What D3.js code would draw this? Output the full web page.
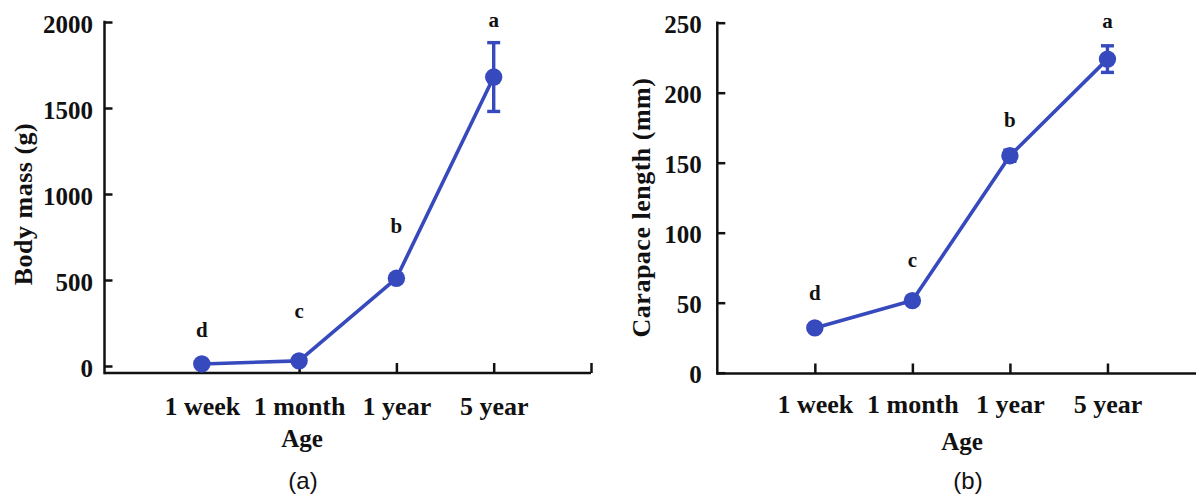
<!DOCTYPE html>
<html>
<head>
<meta charset="utf-8">
<script src="https://cdn.jsdelivr.net/npm/d3@7"></script>
<style>
  html, body { margin: 0; padding: 0; background: #fff; }
  svg { display: block; }
  .serif { font-family: "Liberation Serif", "Times New Roman", serif; font-weight: bold; fill: #111; }
  .sans { font-family: "Liberation Sans", Arial, sans-serif; fill: #111; }
</style>
</head>
<body>
<svg id="chart" width="1196" height="498"></svg>
<script>
// ---------- data ----------
const categories = ["1 week", "1 month", "1 year", "5 year"];
const letters = ["d", "c", "b", "a"];

const bodyMass = [12, 30, 510, 1680];
const bodyMassErr = [6, 8, 20, 200];
const bodyMassLetterY = [170, 280, 775, 1970];
const bodyMassTicks = [0, 500, 1000, 1500, 2000];

const carapace = [32, 51.5, 155, 224];
const carapaceErr = [1.5, 2, 4, 9.5];
const carapaceLetterY = [52, 75.5, 175.5, 246];
const carapaceTicks = [0, 50, 100, 150, 200, 250];

// ---------- drawing ----------
const svg = d3.select("#chart");
const blue = "#3649bd";

function panel(cfg) {
  const g = svg.append("g");
  const x = d3.scaleLinear().domain([0, categories.length + 1]).range([cfg.x0, cfg.x1]);
  const y = d3.scaleLinear().domain([0, cfg.yMax]).range([cfg.y0, cfg.yTop]);

  // y axis
  const yAxis = d3.axisLeft(y).tickValues(cfg.ticks).tickSizeInner(-8).tickSizeOuter(0)
    .tickPadding(cfg.yPad).tickFormat(d3.format("d"));
  const ya = g.append("g").attr("transform", `translate(${cfg.x0},0)`).call(yAxis);
  ya.select(".domain").remove();
  ya.selectAll(".tick line").attr("stroke", "#111").attr("stroke-width", 2.5);
  ya.selectAll(".tick text").attr("class", "serif").style("font-size", "25px").attr("dy", "0.4em");
  g.append("line").attr("x1", cfg.x0).attr("x2", cfg.x0)
    .attr("y1", y(cfg.yMax) - 1.2).attr("y2", cfg.xAxisY + 1.2)
    .attr("stroke", "#111").attr("stroke-width", 2.5);

  // x axis
  const xAxis = d3.axisBottom(x).tickValues(d3.range(1, categories.length + 2))
    .tickSizeInner(-10).tickSizeOuter(0).tickPadding(cfg.xPad)
    .tickFormat(d => categories[d - 1] || "");
  const xa = g.append("g").attr("transform", `translate(0,${cfg.xAxisY})`).call(xAxis);
  xa.select(".domain").attr("stroke", "#111").attr("stroke-width", 2.5)
    .attr("d", `M${cfg.x0},0H${cfg.x1}`);
  xa.selectAll(".tick line").attr("stroke", "#111").attr("stroke-width", 2.5);
  xa.selectAll(".tick text").attr("class", "serif").style("font-size", "26px");

  // line
  const pts = cfg.values.map((v, i) => [x(i + 1), y(v)]);
  g.append("path").attr("d", d3.line()(pts)).attr("fill", "none")
    .attr("stroke", blue).attr("stroke-width", 3.6).attr("stroke-linejoin", "round");

  // error bars
  const eb = g.append("g").attr("stroke", blue).attr("stroke-width", 3.4);
  cfg.values.forEach((v, i) => {
    const cx = x(i + 1), e = cfg.errs[i];
    eb.append("line").attr("x1", cx).attr("x2", cx).attr("y1", y(v - e)).attr("y2", y(v + e));
    eb.append("line").attr("x1", cx - 6.5).attr("x2", cx + 6.5).attr("y1", y(v - e)).attr("y2", y(v - e));
    eb.append("line").attr("x1", cx - 6.5).attr("x2", cx + 6.5).attr("y1", y(v + e)).attr("y2", y(v + e));
  });

  // markers
  g.selectAll("circle.m").data(cfg.values).join("circle").attr("class", "m")
    .attr("cx", (d, i) => x(i + 1)).attr("cy", d => y(d)).attr("r", 8.7).attr("fill", blue);

  // significance letters
  g.selectAll("text.l").data(letters).join("text").attr("class", "serif l")
    .attr("x", (d, i) => x(i + 1)).attr("y", (d, i) => y(cfg.letterY[i]))
    .attr("text-anchor", "middle").style("font-size", "21px").text(d => d);

  // axis titles
  g.append("text").attr("class", "serif").attr("text-anchor", "middle")
    .attr("x", cfg.ageX).attr("y", cfg.ageY).style("font-size", "25px").text("Age");
  g.append("text").attr("class", "serif").attr("text-anchor", "middle")
    .attr("transform", `translate(${cfg.titleX},${cfg.titleY}) rotate(-90)`)
    .style("font-size", "26px").style("letter-spacing", "0.5px").text(cfg.title);

  // panel label
  g.append("text").attr("class", "sans").attr("text-anchor", "middle")
    .attr("x", cfg.labX).attr("y", 489).style("font-size", "24px").text(cfg.panelLabel);
}

panel({
  x0: 104.5, x1: 591, y0: 366, yTop: 22, yMax: 2000, xAxisY: 373,
  ticks: bodyMassTicks, values: bodyMass, errs: bodyMassErr, letterY: bodyMassLetterY,
  yPad: 11.5, xPad: 23.5, ageX: 302, ageY: 446.5,
  title: "Body mass (g)", titleX: 32, titleY: 204, panelLabel: "(a)", labX: 303
});

panel({
  x0: 717.3, x1: 1205, y0: 372.7, yTop: 22.7, yMax: 250, xAxisY: 373.5,
  ticks: carapaceTicks, values: carapace, errs: carapaceErr, letterY: carapaceLetterY,
  yPad: 15.5, xPad: 21, ageX: 962, ageY: 449.5,
  title: "Carapace length (mm)", titleX: 650, titleY: 207.5, panelLabel: "(b)", labX: 968
});
</script>
</body>
</html>
